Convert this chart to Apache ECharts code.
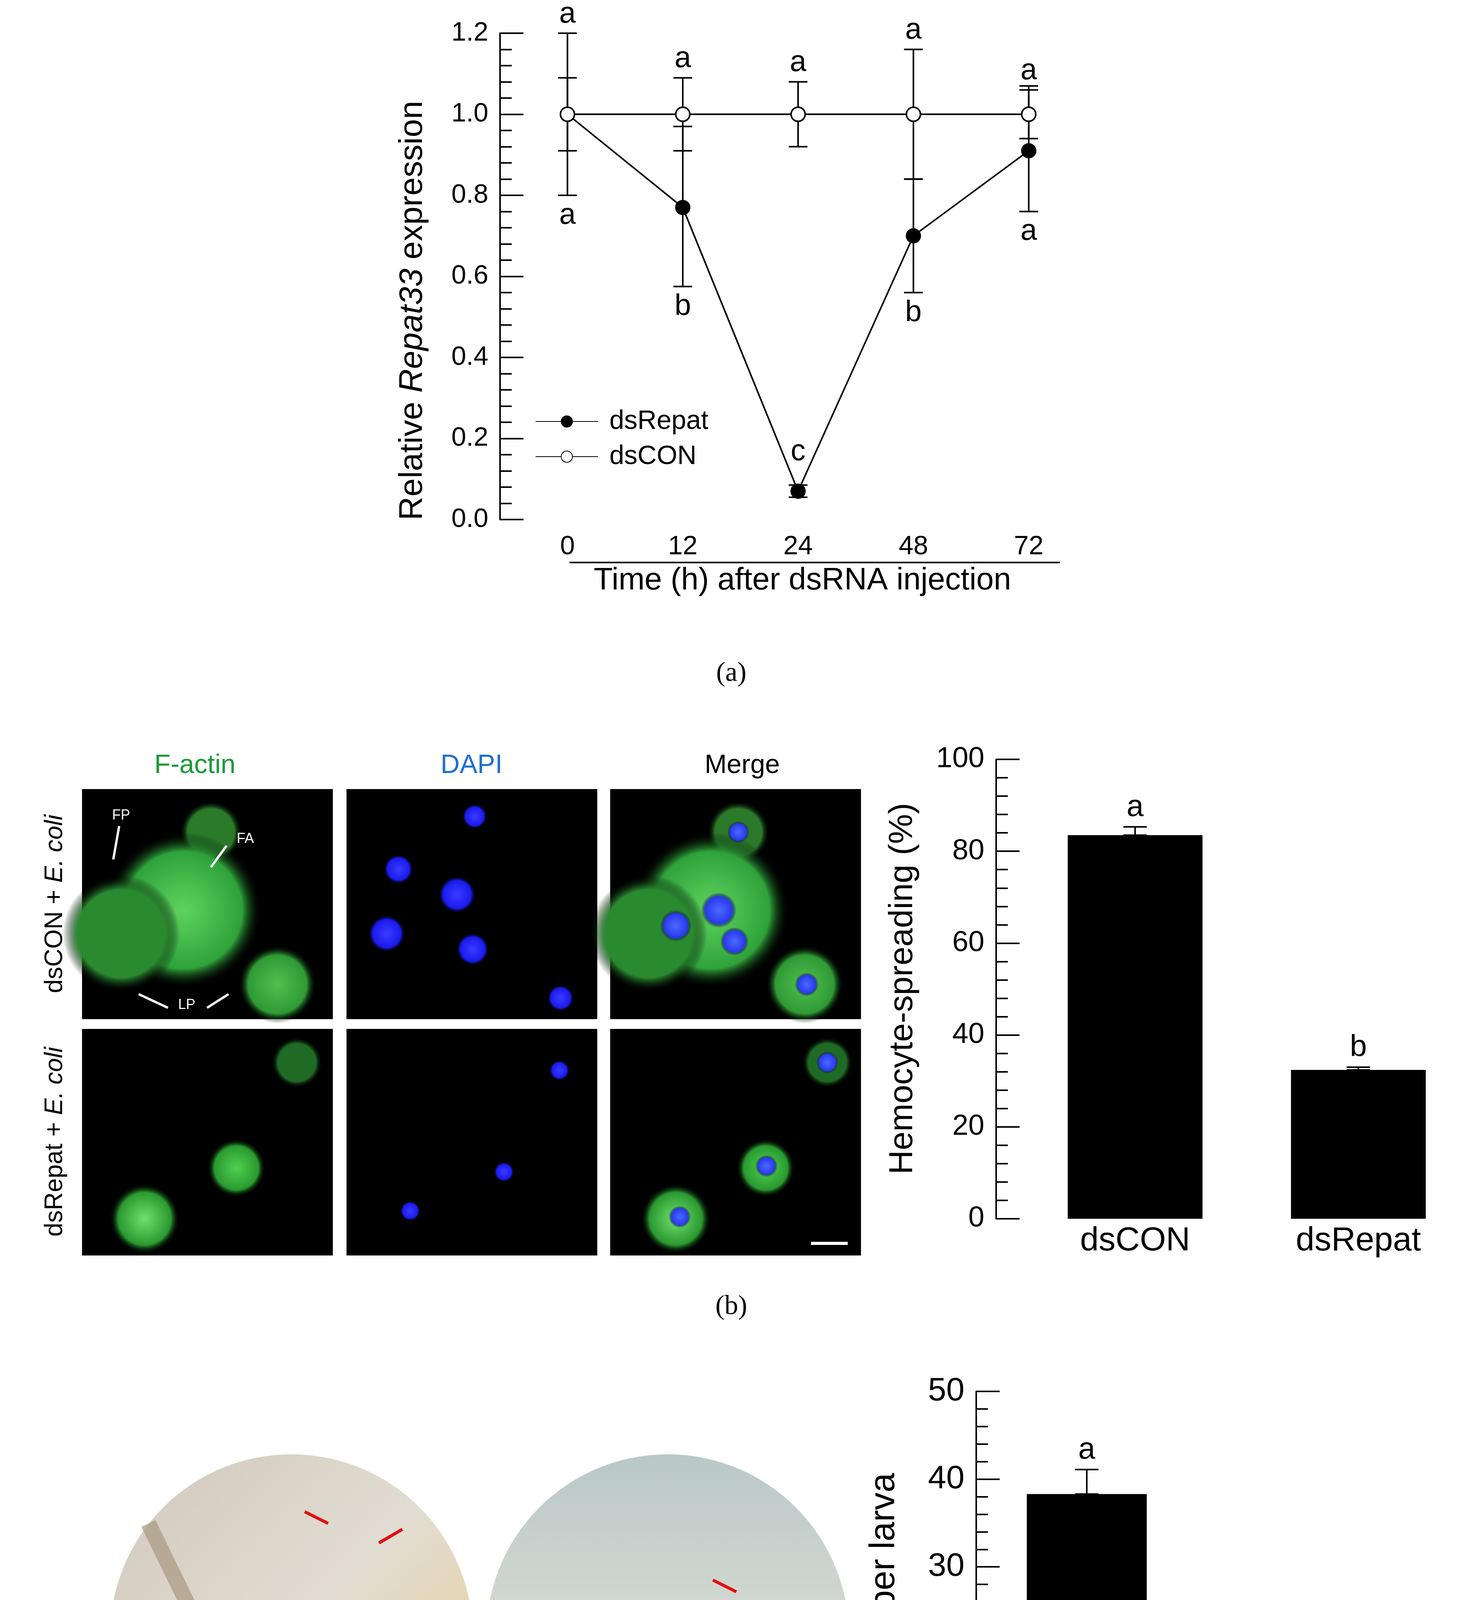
<!DOCTYPE html>
<html>
<head>
<meta charset="utf-8">
<script src="https://cdn.jsdelivr.net/npm/echarts@6/dist/echarts.min.js"></script>
<style>html,body{margin:0;padding:0;background:#fff}#chart{width:3763px;height:4974px}</style>
</head>
<body>
<div id="chart"></div>
<script>
// panel a: time course
var timeLabels = ['0', '12', '24', '48', '72'];
var repatMean = [1.0, 0.77, 0.07, 0.70, 0.91];
var repatLo = [0.91, 0.575, 0.055, 0.56, 0.76];
var repatHi = [1.09, 0.97, 0.085, 0.84, 1.07];
var conMean = [1.0, 1.0, 1.0, 1.0, 1.0];
var conLo = [0.80, 0.91, 0.92, 0.84, 0.94];
var conHi = [1.20, 1.09, 1.08, 1.16, 1.06];
var conLetters = ['a', 'a', 'a', 'a', 'a'];
var repatLetters = ['a', 'b', 'c', 'b', 'a'];

// panel b: hemocyte spreading
var groups = ['dsCON', 'dsRepat'];
var spreadMean = [83.5, 32.4];
var spreadErr = [1.8, 0.6];
var spreadLetters = ['a', 'b'];

// panel c: nodules
var noduleMean = [38.3, 16.4];
var noduleErr = [2.8, 1.3];
var noduleLetters = ['a', 'b'];

var FONT = 'Liberation Sans';
var chart = echarts.init(document.getElementById('chart'));

function errBars(capW) {
	return function (params, api) {
		var x = api.value(0);
		var p1 = api.coord([x, api.value(2)]);
		var p2 = api.coord([x, api.value(1)]);
		var st = { stroke: '#000', lineWidth: 4 };
		return { type: 'group', children: [
			{ type: 'line', shape: { x1: p1[0], y1: p1[1], x2: p2[0], y2: p2[1] }, style: st },
			{ type: 'line', shape: { x1: p1[0] - capW, y1: p1[1], x2: p1[0] + capW, y2: p1[1] }, style: st },
			{ type: 'line', shape: { x1: p2[0] - capW, y1: p2[1], x2: p2[0] + capW, y2: p2[1] }, style: st }
		]};
	};
}
function letters(size) {
	return function (params, api) {
		var p = api.coord([api.value(0), api.value(1)]);
		var up = api.value(3) > 0;
		return { type: 'text', x: p[0], y: p[1] + (up ? -10 : 14),
			style: { text: api.value(2), font: size + 'px ' + FONT, fill: '#000',
				textAlign: 'center', textVerticalAlign: up ? 'bottom' : 'top' } };
	};
}

var aErr = [], aLet = [];
for (var i = 0; i < timeLabels.length; i++) {
	aErr.push([i, conLo[i], conHi[i]]);
	aErr.push([i, repatLo[i], repatHi[i]]);
	aLet.push([i, conHi[i], conLetters[i], 1]);
	if (i === 2) aLet.push([i, 0.12, repatLetters[i], 1]);
	else aLet.push([i, Math.min(repatLo[i], conLo[i]), repatLetters[i], -1]);
}
var bErr = [], bLet = [], cErr = [], cLet = [];
for (var j = 0; j < groups.length; j++) {
	bErr.push([j, spreadMean[j], spreadMean[j] + spreadErr[j]]);
	bLet.push([j, spreadMean[j] + spreadErr[j], spreadLetters[j], 1]);
	cErr.push([j, noduleMean[j], noduleMean[j] + noduleErr[j]]);
	cLet.push([j, noduleMean[j] + noduleErr[j], noduleLetters[j], 1]);
}

function yAx(gi, min, max, interval, dec, offset, name, nameGap, fs, nfs) {
	return {
		gridIndex: gi, type: 'value', min: min, max: max, interval: interval, offset: offset,
		name: name, nameLocation: 'middle', nameGap: nameGap,
		nameTextStyle: { fontFamily: FONT, fontSize: nfs, color: '#000' },
		splitLine: { show: false },
		axisLine: { show: true, lineStyle: { color: '#000', width: 4 } },
		axisTick: { show: true, inside: true, length: 60, lineStyle: { color: '#000', width: 4 } },
		minorTick: { show: true, splitNumber: 5, length: 30, lineStyle: { color: '#000', width: 4 } },
		axisLabel: { fontFamily: FONT, fontSize: fs, color: '#000', margin: 30,
			formatter: function (v) { return v.toFixed(dec); } }
	};
}
function xAx(gi, data, fs, margin) {
	return { gridIndex: gi, type: 'category', data: data,
		axisLine: { show: false }, axisTick: { show: false },
		axisLabel: { fontFamily: FONT, fontSize: fs, color: '#000', margin: margin } };
}

// decorative stand-ins for the micrographs and photographs
var graphics = [];
var tiles = [[210, 2020], [887, 2020], [1562, 2020], [210, 2634], [887, 2634], [1562, 2634]];
tiles.forEach(function (t) {
	graphics.push({ type: 'rect', shape: { x: t[0], y: t[1], width: 642, height: t[1] === 2020 ? 589 : 580 }, style: { fill: '#000' } });
});
function blob(x, y, r, c, inner) {
	graphics.push({ type: 'circle', shape: { cx: x, cy: y, r: r }, style: { fill: {
		type: 'radial', x: 0.5, y: 0.5, r: 0.5,
		colorStops: [{ offset: 0, color: inner || c }, { offset: 0.75, color: c }, { offset: 1, color: 'rgba(0,0,0,0)' }] } } });
}
// F-actin row 1
blob(540, 2130, 80, '#2a7a2a'); blob(470, 2330, 200, '#2fa33a', '#5fd35f'); blob(310, 2390, 150, '#2a8a30');
blob(710, 2520, 100, '#2f9a35', '#50c050');
// DAPI row 1
[[1215, 2090, 32], [1020, 2225, 38], [1170, 2290, 48], [990, 2390, 48], [1210, 2430, 42], [1435, 2555, 34]].forEach(function (b) { blob(b[0], b[1], b[2], '#1a1aee', '#3b3bff'); });
// Merge row 1
blob(1890, 2130, 80, '#2a7a2a'); blob(1820, 2330, 200, '#2fa33a', '#5fd35f'); blob(1660, 2390, 150, '#2a8a30');
blob(2060, 2520, 100, '#2f9a35', '#50c050');
[[1890, 2130, 28], [1730, 2370, 40], [1840, 2330, 45], [1880, 2410, 36], [2065, 2520, 30]].forEach(function (b) { blob(b[0], b[1], b[2], '#2a3aee', '#4a6aff'); });
// row 2
blob(760, 2720, 65, '#1f6a25'); blob(605, 2990, 75, '#2a9a30', '#50d050'); blob(370, 3120, 90, '#2a9a30', '#70e070');
[[1432, 2740, 26], [1290, 3000, 26], [1050, 3100, 26]].forEach(function (b) { blob(b[0], b[1], b[2], '#1a1aee', '#3b3bff'); });
blob(2118, 2720, 65, '#1f6a25'); blob(1960, 2990, 75, '#2a9a30', '#50d050'); blob(1730, 3120, 90, '#2a9a30', '#70e070');
[[2118, 2720, 28], [1962, 2985, 28], [1740, 3115, 28]].forEach(function (b) { blob(b[0], b[1], b[2], '#2a3aee', '#4a6aff'); });
graphics.push({ type: 'line', shape: { x1: 2076, y1: 3183, x2: 2170, y2: 3183 }, style: { stroke: '#fff', lineWidth: 8 } });
[['FP', 310, 2070], ['FA', 628, 2130], ['LP', 478, 2555]].forEach(function (l) {
	graphics.push({ type: 'text', x: l[1], y: l[2], style: { text: l[0], font: '36px ' + FONT, fill: '#fff', textAlign: 'center' } });
});
[[305, 2115, 290, 2200], [580, 2165, 540, 2220], [430, 2580, 355, 2545], [530, 2580, 585, 2545]].forEach(function (a) {
	graphics.push({ type: 'line', shape: { x1: a[0], y1: a[1], x2: a[2], y2: a[3] }, style: { stroke: '#fff', lineWidth: 6 } });
});
// column and row headers
[['F-actin', 499, '#1a9a3a'], ['DAPI', 1207, '#1e6fd0'], ['Merge', 1900, '#000']].forEach(function (h) {
	graphics.push({ type: 'text', x: h[1], y: 1960, style: { text: h[0], font: '68px ' + FONT, fill: h[2], textAlign: 'center', textVerticalAlign: 'middle' } });
});
[['dsCON + ', 2314], ['dsRepat + ', 2923]].forEach(function (r) {
	graphics.push({ type: 'text', x: 141, y: r[1], rotation: Math.PI / 2,
		style: { text: r[0] + '{i|E. coli}', font: '64px ' + FONT, fill: '#000', textAlign: 'center', textVerticalAlign: 'middle',
			rich: { i: { fontStyle: 'italic', fontFamily: FONT, fontSize: 64 } } } });
});
// panel c photos
graphics.push({ type: 'circle', shape: { cx: 746, cy: 4187, r: 464 }, style: { fill: { type: 'linear', x: 0, y: 0, x2: 1, y2: 1,
	colorStops: [{ offset: 0, color: '#cfc8bc' }, { offset: 0.5, color: '#e2ddd2' }, { offset: 1, color: '#e8c98a' }] } } });
graphics.push({ type: 'line', shape: { x1: 380, y1: 3900, x2: 740, y2: 4640 }, style: { stroke: '#a89880', lineWidth: 40, opacity: 0.7 } });
graphics.push({ type: 'circle', shape: { cx: 1709, cy: 4187, r: 464 }, style: { fill: { type: 'linear', x: 0, y: 0, x2: 0, y2: 1,
	colorStops: [{ offset: 0, color: '#b9c8c8' }, { offset: 0.5, color: '#d6dad2' }, { offset: 1, color: '#d8d5c8' }] } } });
[[780, 3870, 840, 3900], [970, 3950, 1030, 3915], [690, 4230, 745, 4265], [800, 4400, 855, 4440], [1825, 4045, 1885, 4075], [1610, 4250, 1670, 4285]].forEach(function (a) {
	graphics.push({ type: 'line', shape: { x1: a[0], y1: a[1], x2: a[2], y2: a[3] }, style: { stroke: '#e01010', lineWidth: 8 } });
});
[['dsCON', 765, 4704], ['dsRepat', 1744, 4717]].forEach(function (l) {
	graphics.push({ type: 'text', x: l[1], y: l[2], style: { text: l[0], font: '64px ' + FONT, fill: '#000', textAlign: 'center', textVerticalAlign: 'middle' } });
});
// panel a x title with rule
graphics.push({ type: 'line', shape: { x1: 1458, y1: 1440, x2: 2713, y2: 1440 }, style: { stroke: '#000', lineWidth: 4 } });
graphics.push({ type: 'text', x: 2054, y: 1487, style: { text: 'Time (h) after dsRNA injection', font: '80px ' + FONT, fill: '#000', textAlign: 'center', textVerticalAlign: 'middle' } });
graphics.push({ type: 'text', x: 1057, y: 795, rotation: Math.PI / 2,
	style: { text: 'Relative {i|Repat33} expression', font: '84px ' + FONT, fill: '#000', textAlign: 'center', textVerticalAlign: 'middle',
		rich: { i: { fontStyle: 'italic', fontFamily: FONT, fontSize: 84 } } } });
// panel labels
[['(a)', 1725], ['(b)', 3346], ['(c)', 4855]].forEach(function (p) {
	graphics.push({ type: 'text', x: 1872, y: p[1], style: { text: p[0], font: '70px Liberation Serif', fill: '#000', textAlign: 'center', textVerticalAlign: 'middle' } });
});
graphics.push({ type: 'text', x: 2311, y: 2531, rotation: Math.PI / 2,
	style: { text: 'Hemocyte-spreading (%)', font: '86px ' + FONT, fill: '#000', textAlign: 'center', textVerticalAlign: 'middle' } });

chart.setOption({
	animation: false,
	backgroundColor: '#fff',
	grid: [
		{ left: 1305, top: 85, width: 1476, height: 1245 },
		{ left: 2620, top: 1944, right: 0, height: 1176 },
		{ left: 2528, top: 3562, width: 1016, height: 1123 }
	],
	legend: {
		left: 1365, top: 1040, orient: 'vertical', itemWidth: 160, itemHeight: 36, itemGap: 22,
		textStyle: { fontFamily: FONT, fontSize: 68, color: '#000', padding: [0, 0, 0, 24] },
		data: ['dsRepat', 'dsCON']
	},
	xAxis: [xAx(0, timeLabels, 68, 36), xAx(1, groups, 86, 14), xAx(2, groups, 88, 14)],
	yAxis: [
		yAx(0, 0, 1.2, 0.2, 1, 25, '', 0, 68, 0),
		yAx(1, 0, 100, 20, 0, 70, '', 0, 74, 0),
		yAx(2, 0, 50, 10, 0, 29, 'Nodules per larva', 190, 84, 90)
	],
	series: [
		{ type: 'custom', xAxisIndex: 0, yAxisIndex: 0, renderItem: errBars(24), data: aErr, z: 1 },
		{ name: 'dsRepat', type: 'line', xAxisIndex: 0, yAxisIndex: 0, data: repatMean, symbol: 'circle', symbolSize: 36,
			lineStyle: { color: '#000', width: 4 }, itemStyle: { color: '#000', borderColor: '#000', borderWidth: 3 }, z: 3 },
		{ name: 'dsCON', type: 'line', xAxisIndex: 0, yAxisIndex: 0, data: conMean, symbol: 'circle', symbolSize: 36,
			lineStyle: { color: '#000', width: 4 }, itemStyle: { color: '#fff', borderColor: '#000', borderWidth: 4 }, z: 4 },
		{ type: 'custom', xAxisIndex: 0, yAxisIndex: 0, renderItem: letters(76), data: aLet, z: 5 },
		{ type: 'bar', xAxisIndex: 1, yAxisIndex: 1, data: spreadMean, barWidth: 345, itemStyle: { color: '#000' } },
		{ type: 'custom', xAxisIndex: 1, yAxisIndex: 1, renderItem: errBars(30), data: bErr },
		{ type: 'custom', xAxisIndex: 1, yAxisIndex: 1, renderItem: letters(78), data: bLet },
		{ type: 'bar', xAxisIndex: 2, yAxisIndex: 2, data: noduleMean, barWidth: 307, itemStyle: { color: '#000' } },
		{ type: 'custom', xAxisIndex: 2, yAxisIndex: 2, renderItem: errBars(30), data: cErr },
		{ type: 'custom', xAxisIndex: 2, yAxisIndex: 2, renderItem: letters(78), data: cLet }
	],
	graphic: graphics
});
</script>
</body>
</html>
